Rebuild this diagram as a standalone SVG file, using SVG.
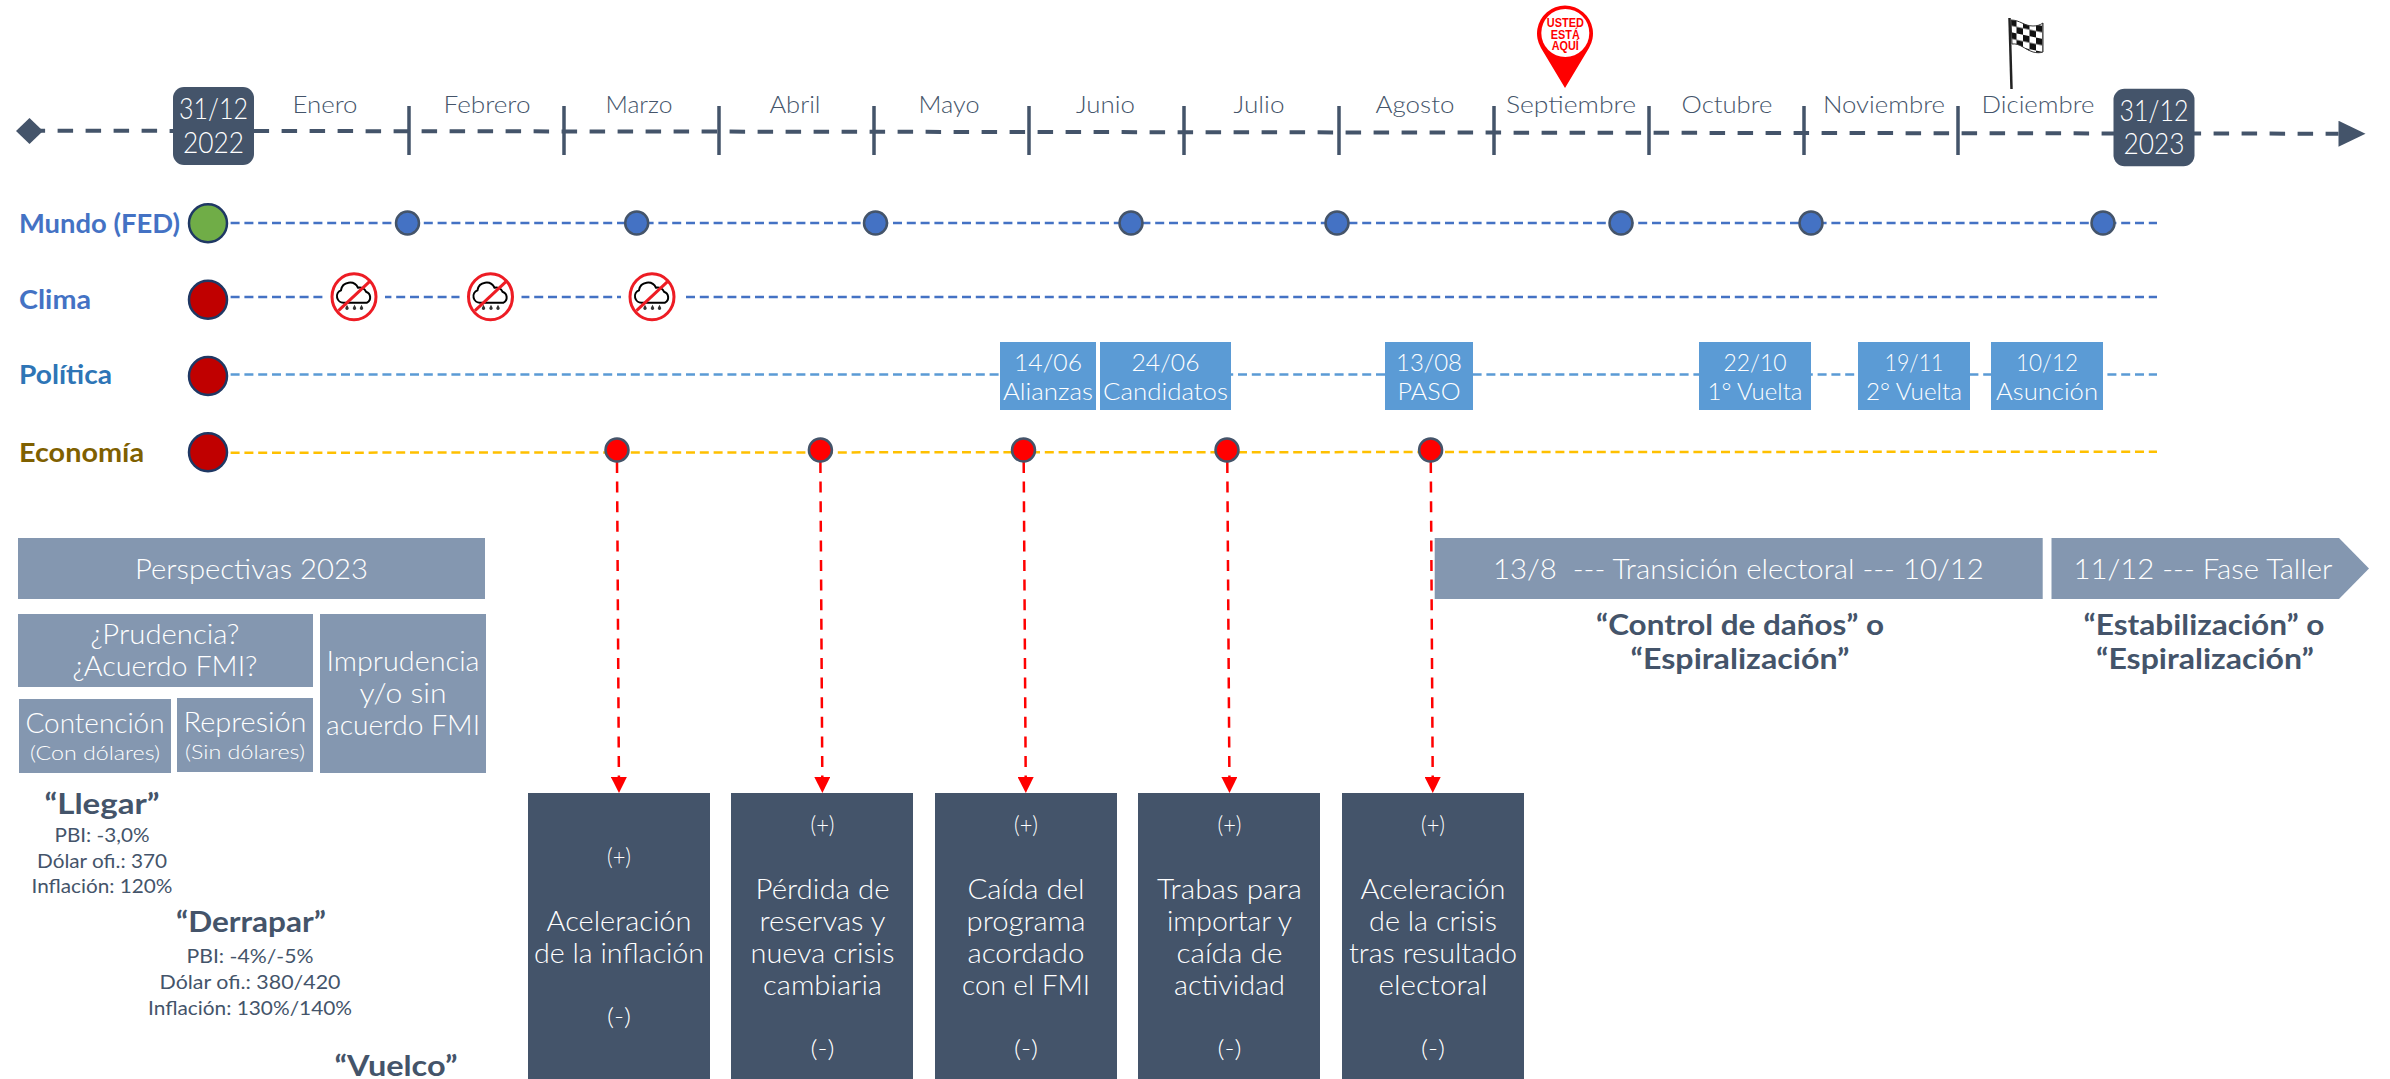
<svg xmlns="http://www.w3.org/2000/svg" width="2390" height="1079" viewBox="0 0 2390 1079">
<style>
text{font-family:"Lato","Noto Sans",sans-serif;font-weight:300;text-anchor:middle}
.lab{font-weight:700;text-anchor:start;font-size:26px}
.mon{font-size:24px;fill:#44546a}
.date{font-size:29px;fill:#fff}
.pol{font-size:24px;fill:#fff}
.box{font-size:27px;fill:#fff}
.sign{font-size:23px;fill:#fff}
.sub{font-size:20px;fill:#fff}
.hd{font-size:28px;fill:#fff}
.bq{font-weight:700;font-size:29px;fill:#44546a}
.st{font-size:20px;fill:#44546a;font-weight:400}
.pin{font-family:"Liberation Sans",Arial,sans-serif;font-weight:700;font-size:13px;fill:#f00}
.rl{fill:none;stroke-width:2.5;stroke-dasharray:9 4.8}
.arr{fill:none;stroke:#f00;stroke-width:2.5;stroke-dasharray:11 8.6;marker-end:url(#ra)}
.tick{stroke:#44546a;stroke-width:3.5}
.big{stroke:#1f3864;stroke-width:2.5}
.bl{fill:#4472c4;stroke:#44546a;stroke-width:2.5}
.rd{fill:#f00;stroke:#44546a;stroke-width:2.5}
.pb{fill:#5b9bd5}
.dk{fill:#44546a}
.gr{fill:#8497b0}
</style>
<defs>
<marker id="ra" markerUnits="userSpaceOnUse" markerWidth="16" markerHeight="16" refX="0" refY="8" orient="auto"><path d="M0 0L16 8L0 16Z" fill="#f00"/></marker>
<marker id="ta" markerUnits="userSpaceOnUse" markerWidth="28" markerHeight="28" refX="0" refY="14" orient="auto"><path d="M0 1L27 14L0 27Z" fill="#44546a"/></marker>
<pattern id="chk" width="13" height="13" patternUnits="userSpaceOnUse" patternTransform="translate(2010 19) skewY(12)"><rect width="13" height="13" fill="#fff"/><rect width="6.5" height="6.5" fill="#111"/><rect x="6.5" y="6.5" width="6.5" height="6.5" fill="#111"/></pattern>
<g id="norain">
<rect x="-31" y="-28" width="62" height="56" fill="#fff"/>
<path d="M-10 6a6.500 6.500 0 0 1-3-12.500a9 9 0 0 1 17-2.500a7 7 0 0 1 8 4a6 6 0 0 1 1 11Z" fill="#fff" stroke="#000" stroke-width="2"/>
<path d="M-7 8l-1.600 3a1.700 1.700 0 1 0 3.200 0ZM0.500 8l-1.600 3a1.700 1.700 0 1 0 3.200 0ZM7.500 8l-1.600 3a1.700 1.700 0 1 0 3.200 0Z" fill="#333"/>
<ellipse cx="0" cy="0" rx="22" ry="23" fill="none" stroke="#ed1c24" stroke-width="3"/>
<path d="M-15.500 14L15.500-15" stroke="#ed1c24" stroke-width="3"/>
</g>
</defs>
<rect width="2390" height="1079" fill="#fff"/>

<g id="connectors">
<path d="M29.600 130.700L2338.500 133.700" fill="none" stroke="#44546a" stroke-width="4" stroke-dasharray="15.500 12.500" marker-end="url(#ta)"/>
<path class="rl" stroke="#4472c4" d="M230.600 223H2157"/>
<path class="rl" stroke="#4472c4" d="M230.600 297H2157"/>
<path class="rl" stroke="#5b9bd5" d="M230.600 374.500H2157"/>
<path class="rl" stroke="#ffc000" d="M230.600 452.700L2157 451.700"/>
<path class="arr" d="M617 462L618.900 777"/>
<path class="arr" d="M820.400 462L822.300 777"/>
<path class="arr" d="M1023.700 462L1025.700 777"/>
<path class="arr" d="M1227.300 462L1229.400 777"/>
<path class="arr" d="M1430.800 462L1432.700 777"/>
</g>

<g id="ticks">
<path class="tick" d="M409 106V155M564 106V155M719 106V155M874 106V155M1029 106V155M1184 106V155M1339 106V155M1494 106V155M1649 106V155M1804 106V155M1958 106V155"/>
</g>

<g id="start"><path d="M29.500 118L43 131L29.500 144L16 131Z" fill="#44546a"/></g>
<g id="date-2022"><rect class="dk" x="173" y="87" width="81" height="78" rx="11"/>
<text class="date" x="213.500" y="119" textLength="69" lengthAdjust="spacingAndGlyphs">31/12</text>
<text class="date" x="213.500" y="152.500" textLength="61" lengthAdjust="spacingAndGlyphs">2022</text></g>
<g id="date-2023"><rect class="dk" x="2113.500" y="88.700" width="81" height="77.500" rx="11"/>
<text class="date" x="2154" y="121" textLength="69" lengthAdjust="spacingAndGlyphs">31/12</text>
<text class="date" x="2154" y="154" textLength="61" lengthAdjust="spacingAndGlyphs">2023</text></g>

<g id="months">
<text class="mon" x="325" y="112.700" textLength="65" lengthAdjust="spacingAndGlyphs">Enero</text>
<text class="mon" x="487" y="112.700" textLength="87" lengthAdjust="spacingAndGlyphs">Febrero</text>
<text class="mon" x="639" y="112.700" textLength="67" lengthAdjust="spacingAndGlyphs">Marzo</text>
<text class="mon" x="795" y="112.700" textLength="51" lengthAdjust="spacingAndGlyphs">Abril</text>
<text class="mon" x="949" y="112.700" textLength="61" lengthAdjust="spacingAndGlyphs">Mayo</text>
<text class="mon" x="1105.500" y="112.700" textLength="59" lengthAdjust="spacingAndGlyphs">Junio</text>
<text class="mon" x="1259" y="112.700" textLength="51" lengthAdjust="spacingAndGlyphs">Julio</text>
<text class="mon" x="1415" y="112.700" textLength="79" lengthAdjust="spacingAndGlyphs">Agosto</text>
<text class="mon" x="1579" y="112.700" textLength="130" lengthAdjust="spacingAndGlyphs" dx="-8">Septiembre</text>
<text class="mon" x="1727" y="112.700" textLength="91" lengthAdjust="spacingAndGlyphs">Octubre</text>
<text class="mon" x="1884" y="112.700" textLength="122" lengthAdjust="spacingAndGlyphs">Noviembre</text>
<text class="mon" x="2038" y="112.700" textLength="113" lengthAdjust="spacingAndGlyphs">Diciembre</text>
</g>

<g id="pin">
<path d="M1565 88L1541 48A28 28 0 1 1 1589 48Z" fill="#f00"/>
<circle cx="1565.300" cy="33" r="24" fill="#fff"/>
<text class="pin" x="1565.300" y="27.300" textLength="37" lengthAdjust="spacingAndGlyphs">USTED</text>
<text class="pin" x="1565.300" y="38.500" textLength="29" lengthAdjust="spacingAndGlyphs">ESTÁ</text>
<text class="pin" x="1565.300" y="49.500" textLength="27" lengthAdjust="spacingAndGlyphs">AQUÍ</text>
</g>
<g id="flag">
<path d="M2009.500 18L2011.500 89" stroke="#222" stroke-width="2.500" fill="none"/>
<path d="M2011 20C2020 20 2024 26 2033 26C2037 26 2040 25 2043 23L2043 52C2040 53 2037 53 2033 52C2024 49 2020 43 2012 44Z" fill="url(#chk)" stroke="#333" stroke-width="1"/>
</g>

<g id="row-mundo">
<text class="lab" x="19" y="232.700" fill="#4472c4" textLength="161" lengthAdjust="spacingAndGlyphs">Mundo (FED)</text>
<circle class="big" cx="208" cy="223.300" r="19" fill="#70ad47"/>
<circle class="bl" cx="407.500" cy="223" r="11.500"/>
<circle class="bl" cx="636.700" cy="223" r="11.500"/>
<circle class="bl" cx="875.500" cy="223" r="11.500"/>
<circle class="bl" cx="1131" cy="223" r="11.500"/>
<circle class="bl" cx="1337" cy="223" r="11.500"/>
<circle class="bl" cx="1621" cy="223" r="11.500"/>
<circle class="bl" cx="1811" cy="223" r="11.500"/>
<circle class="bl" cx="2103" cy="223" r="11.500"/>
</g>
<g id="row-clima">
<text class="lab" x="19" y="308.500" fill="#4472c4" textLength="72" lengthAdjust="spacingAndGlyphs">Clima</text>
<circle class="big" cx="208" cy="299.700" r="19" fill="#c00000"/>
<use href="#norain" x="354" y="296.700"/>
<use href="#norain" x="490.500" y="296.700"/>
<use href="#norain" x="652" y="296.700"/>
</g>
<g id="row-politica">
<text class="lab" x="19" y="384" fill="#2e75b6" textLength="93" lengthAdjust="spacingAndGlyphs">Política</text>
<circle class="big" cx="208" cy="376" r="19" fill="#c00000"/>
</g>
<g id="pol-1406"><rect class="pb" x="1000" y="342" width="96" height="68"/>
<text class="pol" x="1048" y="371" textLength="68" lengthAdjust="spacingAndGlyphs">14/06</text><text class="pol" x="1048" y="400" textLength="90" lengthAdjust="spacingAndGlyphs">Alianzas</text></g>
<g id="pol-2406"><rect class="pb" x="1100" y="342" width="131" height="68"/>
<text class="pol" x="1165.500" y="371" textLength="68" lengthAdjust="spacingAndGlyphs">24/06</text><text class="pol" x="1165.500" y="400" textLength="125" lengthAdjust="spacingAndGlyphs">Candidatos</text></g>
<g id="pol-1308"><rect class="pb" x="1385" y="342" width="88" height="68"/>
<text class="pol" x="1429" y="371" textLength="66" lengthAdjust="spacingAndGlyphs">13/08</text><text class="pol" x="1429" y="400" textLength="63" lengthAdjust="spacingAndGlyphs">PASO</text></g>
<g id="pol-2210"><rect class="pb" x="1699" y="342" width="112" height="68"/>
<text class="pol" x="1755" y="371" textLength="63" lengthAdjust="spacingAndGlyphs">22/10</text><text class="pol" x="1755" y="400" textLength="95" lengthAdjust="spacingAndGlyphs">1° Vuelta</text></g>
<g id="pol-1911"><rect class="pb" x="1858" y="342" width="112" height="68"/>
<text class="pol" x="1914" y="371" textLength="59" lengthAdjust="spacingAndGlyphs">19/11</text><text class="pol" x="1914" y="400" textLength="96" lengthAdjust="spacingAndGlyphs">2° Vuelta</text></g>
<g id="pol-1012"><rect class="pb" x="1991" y="342" width="112" height="68"/>
<text class="pol" x="2047" y="371" textLength="62" lengthAdjust="spacingAndGlyphs">10/12</text><text class="pol" x="2047" y="400" textLength="102" lengthAdjust="spacingAndGlyphs">Asunción</text></g>
<g id="row-economia">
<text class="lab" x="19" y="461.700" fill="#7f6000" textLength="125" lengthAdjust="spacingAndGlyphs">Economía</text>
<circle class="big" cx="208" cy="452.300" r="19" fill="#c00000"/>
<circle class="rd" cx="617" cy="450" r="11.500"/>
<circle class="rd" cx="820.400" cy="450" r="11.500"/>
<circle class="rd" cx="1023.500" cy="450" r="11.500"/>
<circle class="rd" cx="1227" cy="450" r="11.500"/>
<circle class="rd" cx="1430.600" cy="450" r="11.500"/>
</g>

<g id="persp"><rect class="gr" x="18" y="538" width="467" height="61"/>
<text class="hd" x="251.500" y="579" textLength="233" lengthAdjust="spacingAndGlyphs">Perspectivas 2023</text></g>
<g id="prudencia"><rect class="gr" x="18" y="614" width="295" height="73"/>
<text class="box" x="165" y="644" textLength="149" lengthAdjust="spacingAndGlyphs">¿Prudencia?</text>
<text class="box" x="165" y="676" textLength="185" lengthAdjust="spacingAndGlyphs">¿Acuerdo FMI?</text></g>
<g id="imprudencia"><rect class="gr" x="320" y="614" width="166" height="159"/>
<text class="box" x="403" y="671" textLength="153" lengthAdjust="spacingAndGlyphs">Imprudencia</text>
<text class="box" x="403" y="703" textLength="87" lengthAdjust="spacingAndGlyphs">y/o sin</text>
<text class="box" x="403" y="735" textLength="154" lengthAdjust="spacingAndGlyphs">acuerdo FMI</text></g>
<g id="contencion"><rect class="gr" x="19" y="699" width="152" height="74"/>
<text class="box" x="95" y="733" textLength="139" lengthAdjust="spacingAndGlyphs">Contención</text>
<text class="sub" x="95" y="759.600" textLength="130" lengthAdjust="spacingAndGlyphs">(Con dólares)</text></g>
<g id="represion"><rect class="gr" x="177" y="698" width="136" height="74"/>
<text class="box" x="245" y="732" textLength="123" lengthAdjust="spacingAndGlyphs">Represión</text>
<text class="sub" x="245" y="759" textLength="120" lengthAdjust="spacingAndGlyphs">(Sin dólares)</text></g>

<g id="llegar">
<text class="bq" x="102" y="814" textLength="115" lengthAdjust="spacingAndGlyphs">“Llegar”</text>
<text class="st" x="102" y="842" textLength="95" lengthAdjust="spacingAndGlyphs">PBI: -3,0%</text>
<text class="st" x="102" y="867.600" textLength="130" lengthAdjust="spacingAndGlyphs">Dólar ofi.: 370</text>
<text class="st" x="102" y="892.500" textLength="141" lengthAdjust="spacingAndGlyphs">Inflación: 120%</text>
</g>
<g id="derrapar">
<text class="bq" x="251" y="932" textLength="150" lengthAdjust="spacingAndGlyphs">“Derrapar”</text>
<text class="st" x="250" y="963" textLength="127" lengthAdjust="spacingAndGlyphs">PBI: -4%/-5%</text>
<text class="st" x="250" y="989" textLength="181" lengthAdjust="spacingAndGlyphs">Dólar ofi.: 380/420</text>
<text class="st" x="250" y="1014.500" textLength="204" lengthAdjust="spacingAndGlyphs">Inflación: 130%/140%</text>
</g>
<g id="vuelco"><text class="bq" x="396" y="1075.500" textLength="123" lengthAdjust="spacingAndGlyphs">“Vuelco”</text></g>

<g id="card-1"><rect class="dk" x="528" y="793" width="182" height="286"/>
<text class="sign" x="619" y="865" textLength="24" lengthAdjust="spacingAndGlyphs">(+)</text>
<text class="box" x="619" y="930.800" textLength="145" lengthAdjust="spacingAndGlyphs">Aceleración</text>
<text class="box" x="619" y="962.800" textLength="170" lengthAdjust="spacingAndGlyphs">de la inflación</text>
<text class="sign" x="619" y="1025" textLength="24" lengthAdjust="spacingAndGlyphs">(-)</text></g>
<g id="card-2"><rect class="dk" x="731" y="793" width="182" height="286"/>
<text class="sign" x="822.500" y="833" textLength="24" lengthAdjust="spacingAndGlyphs">(+)</text>
<text class="box" x="822.500" y="898.700" textLength="134" lengthAdjust="spacingAndGlyphs">Pérdida de</text>
<text class="box" x="822.500" y="930.700" textLength="126" lengthAdjust="spacingAndGlyphs">reservas y</text>
<text class="box" x="822.500" y="962.700" textLength="144" lengthAdjust="spacingAndGlyphs">nueva crisis</text>
<text class="box" x="822.500" y="994.500" textLength="119" lengthAdjust="spacingAndGlyphs">cambiaria</text>
<text class="sign" x="822.500" y="1057" textLength="24" lengthAdjust="spacingAndGlyphs">(-)</text></g>
<g id="card-3"><rect class="dk" x="935" y="793" width="182" height="286"/>
<text class="sign" x="1026" y="833" textLength="24" lengthAdjust="spacingAndGlyphs">(+)</text>
<text class="box" x="1026" y="898.700" textLength="117" lengthAdjust="spacingAndGlyphs">Caída del</text>
<text class="box" x="1026" y="930.700" textLength="119" lengthAdjust="spacingAndGlyphs">programa</text>
<text class="box" x="1026" y="962.700" textLength="117" lengthAdjust="spacingAndGlyphs">acordado</text>
<text class="box" x="1026" y="994.500" textLength="128" lengthAdjust="spacingAndGlyphs">con el FMI</text>
<text class="sign" x="1026" y="1057" textLength="24" lengthAdjust="spacingAndGlyphs">(-)</text></g>
<g id="card-4"><rect class="dk" x="1138" y="793" width="182" height="286"/>
<text class="sign" x="1229.500" y="833" textLength="24" lengthAdjust="spacingAndGlyphs">(+)</text>
<text class="box" x="1229.500" y="898.700" textLength="145" lengthAdjust="spacingAndGlyphs">Trabas para</text>
<text class="box" x="1229.500" y="930.700" textLength="125" lengthAdjust="spacingAndGlyphs">importar y</text>
<text class="box" x="1229.500" y="962.700" textLength="106" lengthAdjust="spacingAndGlyphs">caída de</text>
<text class="box" x="1229.500" y="994.500" textLength="111" lengthAdjust="spacingAndGlyphs">actividad</text>
<text class="sign" x="1229.500" y="1057" textLength="24" lengthAdjust="spacingAndGlyphs">(-)</text></g>
<g id="card-5"><rect class="dk" x="1342" y="793" width="182" height="286"/>
<text class="sign" x="1433" y="833" textLength="24" lengthAdjust="spacingAndGlyphs">(+)</text>
<text class="box" x="1433" y="898.700" textLength="145" lengthAdjust="spacingAndGlyphs">Aceleración</text>
<text class="box" x="1433" y="930.700" textLength="128" lengthAdjust="spacingAndGlyphs">de la crisis</text>
<text class="box" x="1433" y="962.700" textLength="168" lengthAdjust="spacingAndGlyphs">tras resultado</text>
<text class="box" x="1433" y="994.500" textLength="109" lengthAdjust="spacingAndGlyphs">electoral</text>
<text class="sign" x="1433" y="1057" textLength="24" lengthAdjust="spacingAndGlyphs">(-)</text></g>

<g id="transicion"><rect class="gr" x="1434.700" y="538" width="608" height="61"/>
<text class="hd" x="1738.400" y="579" textLength="491" lengthAdjust="spacingAndGlyphs" xml:space="preserve">13/8  --- Transición electoral --- 10/12</text>
<text class="bq" x="1740" y="635" textLength="288" lengthAdjust="spacingAndGlyphs">“Control de daños” o</text>
<text class="bq" x="1740" y="669" textLength="219" lengthAdjust="spacingAndGlyphs">“Espiralización”</text></g>
<g id="fase-taller"><path class="gr" d="M2051.500 538H2339L2369 568.500L2339 599H2051.500Z"/>
<text class="hd" x="2203" y="579" textLength="259" lengthAdjust="spacingAndGlyphs">11/12 --- Fase Taller</text>
<text class="bq" x="2204" y="635" textLength="241" lengthAdjust="spacingAndGlyphs">“Estabilización” o</text>
<text class="bq" x="2205" y="669" textLength="218" lengthAdjust="spacingAndGlyphs">“Espiralización”</text></g>
</svg>
